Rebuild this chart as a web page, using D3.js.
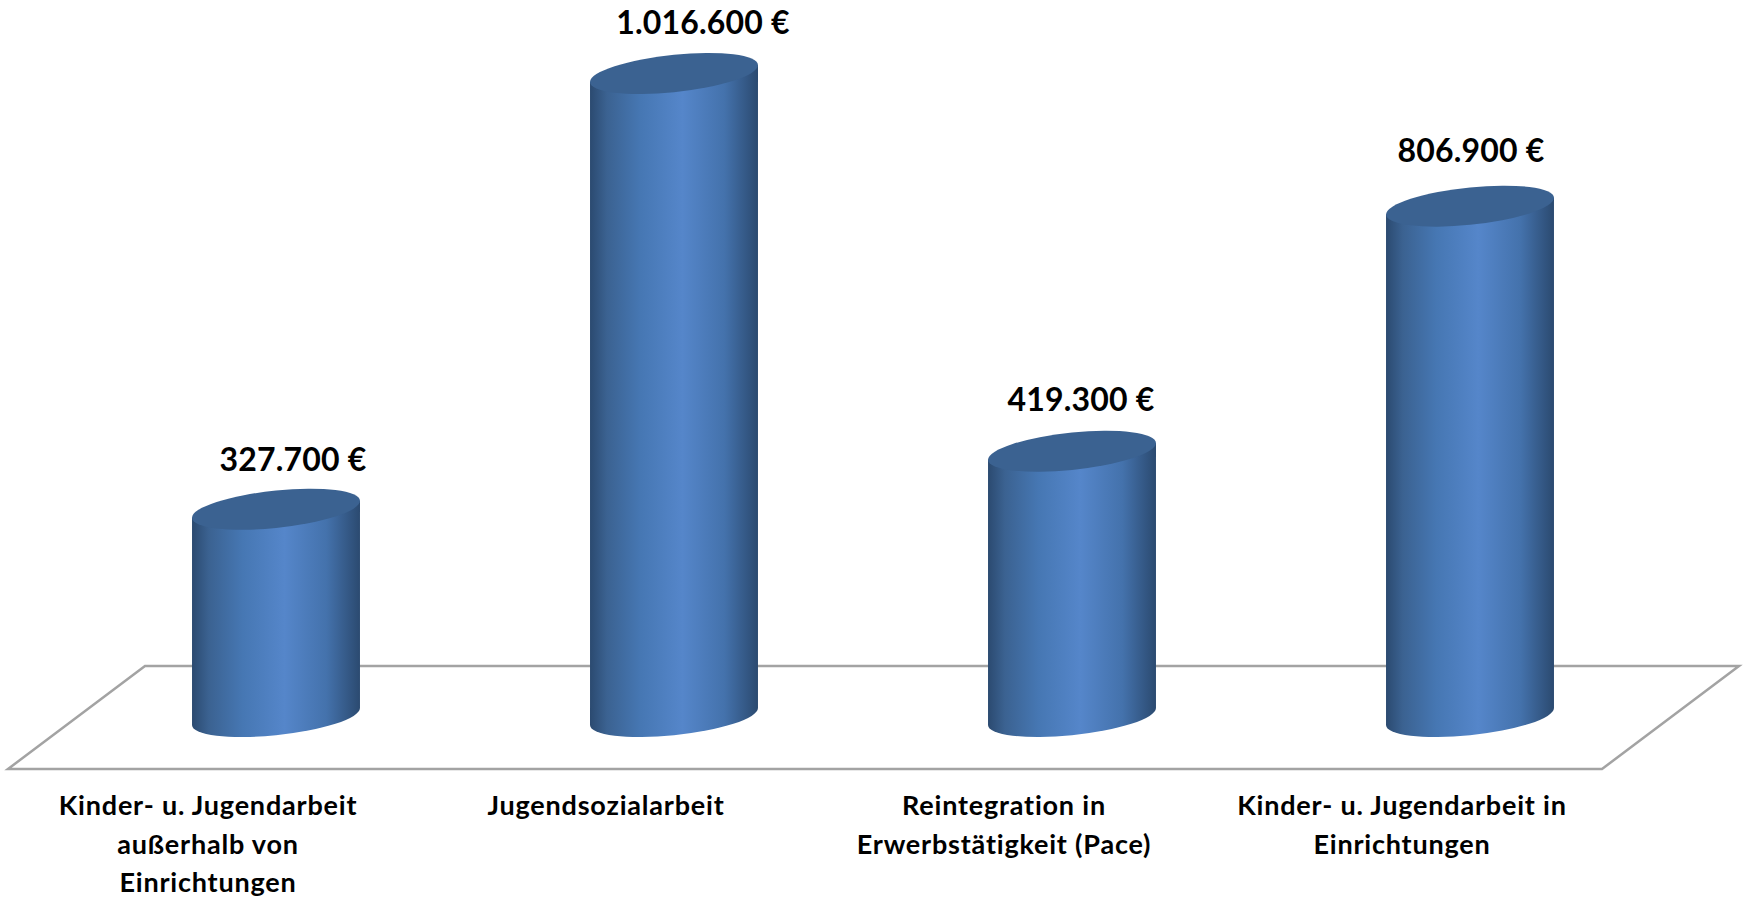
<!DOCTYPE html>
<html>
<head>
<meta charset="utf-8">
<script src="https://cdnjs.cloudflare.com/ajax/libs/d3/7.8.5/d3.min.js"></script>
<style>
  html, body { margin: 0; padding: 0; background: #fff; }
  svg { display: block; }
  text { font-family: Lato, "Open Sans", sans-serif; font-weight: 700; fill: #000; }
</style>
</head>
<body>
<div id="chart"></div>
<script>
// chart data
var categories = [
  "Kinder- u. Jugendarbeit|außerhalb von|Einrichtungen",
  "Jugendsozialarbeit",
  "Reintegration in|Erwerbstätigkeit (Pace)",
  "Kinder- u. Jugendarbeit in|Einrichtungen"
];
var values = [327700, 1016600, 419300, 806900];
var valueLabels = ["327.700 €", "1.016.600 €", "419.300 €", "806.900 €"];

// value labels sit a bit off the cylinder centre in the original
var labelNudge = [17, 29, 9, 1];
var labelLift = [38, 40, 40, 44];

var width = 1746, height = 899;

var svg = d3.select("#chart")
  .append("svg")
  .attr("width", width)
  .attr("height", height);

var x = d3.scaleBand()
  .domain(categories)
  .range([77, 1669]);

var y = d3.scaleLinear()
  .domain([0, 1016600])
  .range([716.5, 73.5]);

var rx = x.bandwidth() * 0.211;
var ry = 18.7;
var tilt = 0.1;

// gradient across the cylinder wall
var defs = svg.append("defs");
var grad = defs.append("linearGradient")
  .attr("id", "wall")
  .attr("x1", 0).attr("x2", 1).attr("y1", 0).attr("y2", 0);
grad.append("stop").attr("offset", "0%").attr("stop-color", "#2b4a70");
grad.append("stop").attr("offset", "10%").attr("stop-color", "#3b6291");
grad.append("stop").attr("offset", "30%").attr("stop-color", "#4677b3");
grad.append("stop").attr("offset", "55%").attr("stop-color", "#5586ca");
grad.append("stop").attr("offset", "80%").attr("stop-color", "#4472ac");
grad.append("stop").attr("offset", "100%").attr("stop-color", "#2b4a70");

// floor
var floorPoints = [[8, 769], [145, 666], [1739, 666], [1602, 769]];
svg.append("path")
  .attr("d", d3.line().curve(d3.curveLinearClosed)(floorPoints))
  .attr("fill", "#fff")
  .attr("stroke", "#a3a3a3")
  .attr("stroke-width", 2.5);

// cylinders
var bars = svg.selectAll("g.bar")
  .data(values)
  .enter()
  .append("g")
  .attr("class", "bar")
  .attr("transform", function(d, i) {
    var cx = x(categories[i]) + x.bandwidth() / 2;
    return "matrix(1," + (-tilt) + ",0,1," + cx + ",0)";
  });

bars.append("path")
  .attr("fill", "url(#wall)")
  .attr("d", function(d) {
    return "M" + (-rx) + "," + y(d) +
      "L" + (-rx) + "," + y(0) +
      "A" + rx + "," + ry + " 0 0 0 " + rx + "," + y(0) +
      "L" + rx + "," + y(d) + "Z";
  });

bars.append("ellipse")
  .attr("cx", 0)
  .attr("cy", function(d) { return y(d); })
  .attr("rx", rx)
  .attr("ry", ry)
  .attr("fill", "#3b6291");

// value labels
svg.selectAll("text.value")
  .data(values)
  .enter()
  .append("text")
  .attr("class", "value")
  .attr("x", function(d, i) { return x(categories[i]) + x.bandwidth() / 2 + labelNudge[i]; })
  .attr("y", function(d, i) { return y(d) - labelLift[i]; })
  .attr("text-anchor", "middle")
  .style("font-size", "32px")
  .style("letter-spacing", "0.2px")
  .text(function(d, i) { return valueLabels[i]; });

// category axis, shifted left to follow the floor
var axis = svg.append("g")
  .attr("transform", "translate(-68,784)")
  .call(d3.axisBottom(x).tickSize(0).tickFormat(""));
axis.select(".domain").remove();

axis.selectAll(".tick text").each(function(d) {
  var t = d3.select(this);
  t.attr("y", 31).attr("dy", null)
    .style("font-size", "27px")
    .style("letter-spacing", "0.8px");
  d.split("|").forEach(function(line, i) {
    t.append("tspan")
      .attr("x", 0)
      .attr("dy", i == 0 ? 0 : 38.5)
      .text(line);
  });
});
</script>
</body>
</html>
